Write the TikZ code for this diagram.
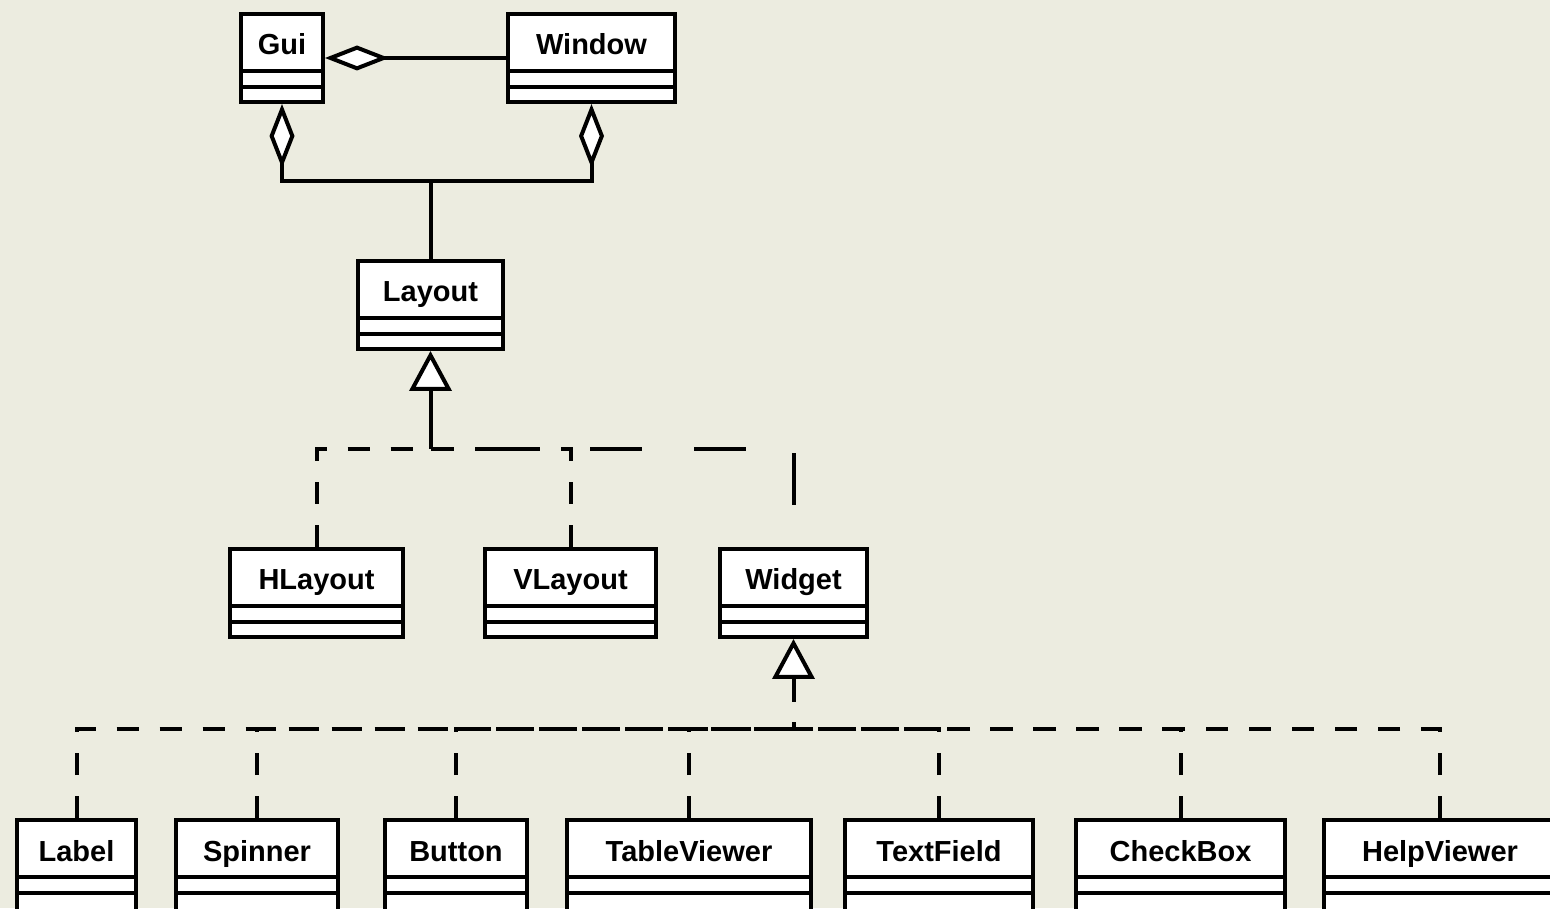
\documentclass[tikz,border=0pt]{standalone}
\usepackage{fontspec}
\setmainfont{Liberation Sans}
\usetikzlibrary{arrows.meta}
\definecolor{paper}{RGB}{236,236,224}

\begin{document}
\begin{tikzpicture}[x=1pt,y=1pt,
  class/.style={draw, line width=4pt, fill=white, anchor=north, inner xsep=0pt, inner ysep=0pt,
    text height=41pt, text depth=47pt, font=\bfseries\fontsize{29pt}{34pt}\selectfont,
    path picture={\draw[line width=4pt]
      ([yshift=-57pt]path picture bounding box.north west) -- ([yshift=-57pt]path picture bounding box.north east)
      ([yshift=-73pt]path picture bounding box.north west) -- ([yshift=-73pt]path picture bounding box.north east);}},
  aggr/.style={line width=4pt, {Diamond[fill=white,length=64pt,width=25pt]}-},
  inherit/.style={line width=4pt, -{Triangle[fill=white,length=40pt,width=42pt]}},
  realize/.style={line width=4pt, dash pattern=on 22pt off 21pt}]

\useasboundingbox (0,0) rectangle (1550,908);
\fill[paper] (0,0) rectangle (1550,908);
\clip (0,0) rectangle (1550,908);

% top
\node [class, minimum width=82pt] (gui) at (282,896) {Gui};
\node [class, minimum width=167pt] (window) at (591.5,896) {Window};
\node [class, minimum width=145pt] (layout) at (430.5,649) {Layout};

% layouts and widget
\node [class, minimum width=173pt] (hlayout) at (316.5,361) {HLayout};
\node [class, minimum width=171pt] (vlayout) at (570.5,361) {VLayout};
\node [class, minimum width=147pt] (widget) at (793.5,361) {Widget};

% widgets (cut off at the bottom)
\node [class, text depth=52pt, minimum width=119pt] (label) at (76.5,90) {Label};
\node [class, text depth=52pt, minimum width=162pt] (spinner) at (257,90) {Spinner};
\node [class, text depth=52pt, minimum width=142pt] (button) at (456,90) {Button};
\node [class, text depth=52pt, minimum width=244pt] (tableviewer) at (689,90) {TableViewer};
\node [class, text depth=52pt, minimum width=188pt] (textfield) at (939,90) {TextField};
\node [class, text depth=52pt, minimum width=209pt] (checkbox) at (1180.5,90) {CheckBox};
\node [class, text depth=52pt, minimum width=233pt] (helpviewer) at (1440,90) {HelpViewer};

\coordinate (agg) at (430.5,727);
\coordinate (lay-bus) at (430.5,459);
\coordinate (wid-bus) at (793.5,179);
\coordinate (wid-stub) at (793.5,206);

\draw [aggr] (gui) -- (window);
\draw [aggr] (gui) |- (agg);
\draw [aggr] (window) |- (agg);
\draw [line width=4pt] (layout) -- (agg);

\draw [inherit] (lay-bus) -- (layout);
\draw [realize] (hlayout) |- (lay-bus);
\draw [realize] (vlayout) |- (lay-bus);
\draw [realize, dash pattern=on 52pt off 52pt, dash phase=62pt] (widget) |- (lay-bus);

\draw [inherit] (wid-stub) -- (widget);
\draw [realize, dash phase=15pt] (wid-bus) -- (wid-stub);
\draw [realize] (label) |- (wid-bus);
\draw [realize] (spinner) |- (wid-bus);
\draw [realize] (button) |- (wid-bus);
\draw [realize] (tableviewer) |- (wid-bus);
\draw [realize] (textfield) |- (wid-bus);
\draw [realize] (checkbox) |- (wid-bus);
\draw [realize] (helpviewer) |- (wid-bus);
\end{tikzpicture}
\end{document}
